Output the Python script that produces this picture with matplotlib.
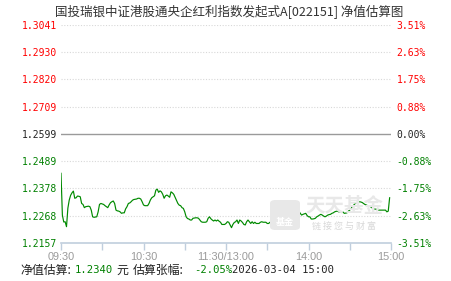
import numpy as np
import matplotlib
matplotlib.use('Agg')
import matplotlib.pyplot as plt
from matplotlib.patches import FancyBboxPatch

W, H = 451, 281

TITLE = '国投瑞银中证港股通央企红利指数发起式A[022151] 净值估算图'
BASE_NAV = 1.2599
NAV_LEVELS = [1.3041, 1.2930, 1.2820, 1.2709, 1.2599, 1.2489, 1.2378, 1.2268, 1.2157]
PCT_LABELS = ['3.51%', '2.63%', '1.75%', '0.88%', '0.00%', '-0.88%', '-1.75%', '-2.63%', '-3.51%']
TICK_MINUTES = [0, 30, 60, 90, 120, 150, 180, 210, 240]
TICK_LABELS = ['09:30', '', '10:30', '', '11:30/13:00', '', '14:00', '', '15:00']

# estimated NAV, one value per trading minute (lunch break removed)
nav = [
    1.2439, 1.2270, 1.2242, 1.2243, 1.2223, 1.2298, 1.2331, 1.2350, 1.2360, 1.2367,
    1.2338, 1.2340, 1.2347, 1.2346, 1.2344, 1.2317, 1.2313, 1.2300, 1.2304, 1.2305,
    1.2306, 1.2304, 1.2290, 1.2263, 1.2261, 1.2262, 1.2263, 1.2283, 1.2313, 1.2317,
    1.2315, 1.2313, 1.2308, 1.2304, 1.2300, 1.2311, 1.2320, 1.2324, 1.2327, 1.2317,
    1.2290, 1.2287, 1.2286, 1.2283, 1.2277, 1.2279, 1.2279, 1.2295, 1.2304, 1.2317,
    1.2319, 1.2324, 1.2330, 1.2333, 1.2334, 1.2335, 1.2338, 1.2338, 1.2335, 1.2324,
    1.2311, 1.2308, 1.2308, 1.2308, 1.2317, 1.2331, 1.2340, 1.2344, 1.2348, 1.2371,
    1.2375, 1.2362, 1.2368, 1.2364, 1.2354, 1.2338, 1.2348, 1.2351, 1.2347, 1.2342,
    1.2364, 1.2360, 1.2354, 1.2342, 1.2331, 1.2317, 1.2310, 1.2308, 1.2300, 1.2297,
    1.2283, 1.2263, 1.2256, 1.2254, 1.2250, 1.2250, 1.2257, 1.2258, 1.2259, 1.2259,
    1.2257, 1.2250, 1.2243, 1.2241, 1.2241, 1.2241, 1.2243, 1.2257, 1.2263, 1.2255,
    1.2250, 1.2246, 1.2250, 1.2246, 1.2250, 1.2245, 1.2241, 1.2232, 1.2232, 1.2232,
    1.2236, 1.2243, 1.2241, 1.2230, 1.2219, 1.2232, 1.2240, 1.2243, 1.2250, 1.2236,
    1.2250, 1.2246, 1.2240, 1.2232, 1.2230, 1.2243, 1.2250, 1.2243, 1.2236, 1.2243,
    1.2236, 1.2241, 1.2236, 1.2236, 1.2236, 1.2241, 1.2243, 1.2241, 1.2241, 1.2241,
    1.2236, 1.2236, 1.2241, 1.2243, 1.2248, 1.2254, 1.2257, 1.2259, 1.2270, 1.2273,
    1.2272, 1.2270, 1.2277, 1.2281, 1.2283, 1.2286, 1.2285, 1.2283, 1.2277, 1.2283,
    1.2286, 1.2285, 1.2283, 1.2286, 1.2277, 1.2270, 1.2273, 1.2275, 1.2277, 1.2268,
    1.2263, 1.2263, 1.2254, 1.2254, 1.2255, 1.2257, 1.2263, 1.2266, 1.2270, 1.2273,
    1.2270, 1.2266, 1.2263, 1.2266, 1.2270, 1.2272, 1.2273, 1.2277, 1.2279, 1.2283,
    1.2285, 1.2286, 1.2283, 1.2283, 1.2281, 1.2283, 1.2277, 1.2278, 1.2279, 1.2286,
    1.2290, 1.2297, 1.2305, 1.2311, 1.2317, 1.2321, 1.2321, 1.2324, 1.2323, 1.2321,
    1.2317, 1.2313, 1.2311, 1.2308, 1.2306, 1.2304, 1.2300, 1.2297, 1.2294, 1.2294,
    1.2292, 1.2290, 1.2290, 1.2290, 1.2290, 1.2290, 1.2290, 1.2283, 1.2286, 1.2340,
]
minutes = np.arange(len(nav))

EST_NAV = '1.2340'
EST_PCT = '-2.05%'
STAMP = '2026-03-04 15:00'

RED = '#ff0000'
GREEN = '#008000'
LINE = '#008a00'
AXIS = '#c0cedd'
CJK = ['Noto Sans CJK SC', 'DejaVu Sans']
MONO = 'DejaVu Sans Mono'


def px(x, y):
    return x / W, 1 - y / H


fig = plt.figure(figsize=(W / 100, H / 100), dpi=100, facecolor='white')
ax = fig.add_axes([61 / W, 1 - 243 / H, 330 / W, 218.5 / H])
ax.set_facecolor('white')

# watermark behind the line
logo = FancyBboxPatch(px(270, 230), 30 / W, 30 / H, boxstyle='round,pad=0,rounding_size=0.012',
                      transform=fig.transFigure, facecolor='#e8e8e8', edgecolor='none', zorder=0)
fig.patches.append(logo)
fig.text(*px(285, 222), '基金', fontsize=6.5, color='white', ha='center', va='center',
         family=CJK, weight='bold', zorder=1)
fig.text(*px(344, 207), '天天基金', fontsize=14, color='#e8e8e8', ha='center', va='center',
         family=CJK, weight='bold', zorder=1)
fig.text(*px(344, 226), '链 接 您 与 财 富', fontsize=6.5, color='#d8d8d8', ha='center', va='center',
         family=CJK, zorder=1)

for lvl in NAV_LEVELS[:-1]:
    if lvl == BASE_NAV:
        ax.axhline(lvl, color='#9a9a9a', lw=1.0, zorder=2)
    else:
        ax.axhline(lvl, color='#d8d8d8', lw=0.8, ls=(0, (1, 1.5)), zorder=2)

ax.plot(minutes, nav, color=LINE, lw=0.85, zorder=3)

ax.set_xlim(0, 240)
ax.set_ylim(NAV_LEVELS[-1], NAV_LEVELS[0])
ax.set_xticks(TICK_MINUTES)
ax.set_xticklabels(TICK_LABELS, family='Liberation Sans', fontsize=7.8, color='#9a9a9a')
ax.tick_params(axis='x', length=5, width=1, color=AXIS, pad=1.5)
ax.set_yticks(NAV_LEVELS)
ax.set_yticklabels([f'{v:.4f}' for v in NAV_LEVELS], family=MONO, fontsize=7)
ax.tick_params(axis='y', length=0, pad=3)

for sp in ['top', 'left', 'right']:
    ax.spines[sp].set_visible(False)
ax.spines['bottom'].set_color(AXIS)
ax.spines['bottom'].set_linewidth(1.2)


def level_color(v):
    if v > BASE_NAV:
        return RED
    if v < BASE_NAV:
        return GREEN
    return '#222222'


for lab, v in zip(ax.get_yticklabels(), NAV_LEVELS):
    lab.set_color(level_color(v))

ax2 = ax.twinx()
ax2.set_ylim(ax.get_ylim())
ax2.set_yticks(NAV_LEVELS)
ax2.set_yticklabels(PCT_LABELS, family=MONO, fontsize=7)
ax2.tick_params(axis='y', length=0, pad=4)
for sp in ax2.spines.values():
    sp.set_visible(False)
for lab, v in zip(ax2.get_yticklabels(), NAV_LEVELS):
    lab.set_color(level_color(v))

fig.text(*px(229, 12), TITLE, fontsize=9, color='#333333', ha='center', va='center', family=CJK)

# bottom info line
y_info = 270
fig.text(*px(20, y_info), '净值估算:', fontsize=8.6, color='#222222', va='center', family=CJK)
fig.text(*px(75, y_info), EST_NAV, fontsize=7.6, color=GREEN, va='center', family=MONO)
fig.text(*px(116, y_info), '元', fontsize=8.6, color='#222222', va='center', family=CJK)
fig.text(*px(133, y_info), '估算张幅:', fontsize=8.6, color='#222222', va='center', family=CJK)
fig.text(*px(194, y_info), EST_PCT, fontsize=7.6, color=GREEN, va='center', family=MONO)
fig.text(*px(232, y_info), STAMP, fontsize=7.6, color='#222222', va='center', family=MONO)

fig.savefig('out.png', dpi=100, facecolor='white')
